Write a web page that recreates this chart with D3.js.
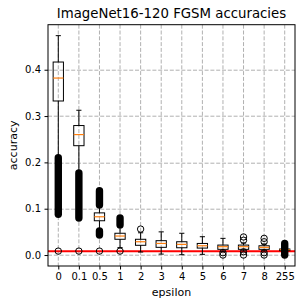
<!DOCTYPE html>
<html>
<head>
<meta charset="utf-8">
<script src="https://cdn.jsdelivr.net/npm/d3@7"></script>
<style>
  body { margin: 0; background: #fff; }
  text { font-family: "DejaVu Sans", sans-serif; }
</style>
</head>
<body>
<div id="chart-area"></div>
<script>
// data
var epsilons = ["0", "0.1", "0.5", "1", "2", "3", "4", "5", "6", "7", "8", "255"];
var whiskerLow  = [0.212, 0.178, 0.055, 0.016, 0.0065, 0.002, 0.0007, 0.0015, 0.008, 0.009, 0.009, 0.0095];
var q1          = [0.3325, 0.236, 0.074, 0.034, 0.021, 0.0166, 0.0157, 0.015, 0.0123, 0.0123, 0.0123, 0.0095];
var medians     = [0.382, 0.260, 0.0826, 0.041, 0.0287, 0.025, 0.023, 0.020, 0.018, 0.018, 0.0166, 0.0115];
var q3          = [0.4166, 0.2795, 0.091, 0.047, 0.034, 0.031, 0.0287, 0.025, 0.0215, 0.0215, 0.020, 0.013];
var whiskerHigh = [0.4735, 0.3125, 0.104, 0.062, 0.048, 0.050, 0.047, 0.0395, 0.036, 0.026, 0.024, 0.013];
// single outliers
var fliers = [
    [0.0085],
    [0.0085],
    [0.0085],
    [0.0085],
    [0.056],
    [],
    [],
    [],
    [0.005, 0.0],
    [0.039, 0.032, 0.007, 0.0],
    [0.036, 0.0287, 0.005, 0.0],
    []
];
// ranges where outliers overlap into one solid column
var flierBands = [
    [[0.088, 0.210]],
    [[0.080, 0.177]],
    [[0.108, 0.139], [0.043, 0.052]],
    [[0.065, 0.080]],
    [],
    [],
    [],
    [],
    [],
    [],
    [],
    [[0.0, 0.025]]
];
var chance = 1 / 120;
var yTicks = [0.0, 0.1, 0.2, 0.3, 0.4];

var width = 305;
var height = 308;
var margin = { left: 48, right: 10, top: 24.7, bottom: 42 };
var innerW = width - margin.left - margin.right;
var innerH = height - margin.top - margin.bottom;

var svg = d3.select("#chart-area")
    .append("svg")
    .attr("width", width)
    .attr("height", height);

var g = svg.append("g")
    .attr("transform", "translate(" + margin.left + "," + margin.top + ")");

var x = d3.scalePoint()
    .domain(epsilons)
    .range([0, innerW])
    .padding(0.5);

// matplotlib style 5% margins around the data
var allVals = whiskerLow.concat(whiskerHigh, d3.merge(fliers), d3.merge(flierBands.map(function(b) { return d3.merge(b); })));
var lo = d3.min(allVals), hi = d3.max(allVals);
var pad = (hi - lo) * 0.05;
var y = d3.scaleLinear()
    .domain([lo - pad, hi + pad])
    .range([innerH, 0]);

// grid
g.append("g").selectAll("line")
    .data(epsilons)
    .enter().append("line")
    .attr("x1", function(d) { return x(d); })
    .attr("x2", function(d) { return x(d); })
    .attr("y1", 0).attr("y2", innerH)
    .attr("stroke", "#b0b0b0").attr("stroke-width", 1)
    .attr("stroke-dasharray", "4,1.8");

g.append("g").selectAll("line")
    .data(yTicks)
    .enter().append("line")
    .attr("x1", 0).attr("x2", innerW)
    .attr("y1", function(d) { return Math.round(y(d)) + 0.5; })
    .attr("y2", function(d) { return Math.round(y(d)) + 0.5; })
    .attr("stroke", "#b0b0b0").attr("stroke-width", 1)
    .attr("stroke-dasharray", "4,1.8");

// chance line
g.append("line")
    .attr("x1", 0).attr("x2", innerW)
    .attr("y1", y(chance)).attr("y2", y(chance))
    .attr("stroke", "red").attr("stroke-width", 2);

var boxW = x.step() * 0.5;
var capW = boxW * 0.5;
var r = 3.2;

var boxes = g.selectAll(".box")
    .data(epsilons)
    .enter().append("g")
    .attr("class", "box")
    .attr("transform", function(d) { return "translate(" + x(d) + ",0)"; });

// whiskers
boxes.append("line")
    .attr("y1", function(d, i) { return y(whiskerLow[i]); })
    .attr("y2", function(d, i) { return y(q1[i]); })
    .attr("stroke", "black");
boxes.append("line")
    .attr("y1", function(d, i) { return y(q3[i]); })
    .attr("y2", function(d, i) { return y(whiskerHigh[i]); })
    .attr("stroke", "black");
// caps
boxes.append("line")
    .attr("x1", -capW / 2).attr("x2", capW / 2)
    .attr("y1", function(d, i) { return y(whiskerLow[i]); })
    .attr("y2", function(d, i) { return y(whiskerLow[i]); })
    .attr("stroke", "black");
boxes.append("line")
    .attr("x1", -capW / 2).attr("x2", capW / 2)
    .attr("y1", function(d, i) { return y(whiskerHigh[i]); })
    .attr("y2", function(d, i) { return y(whiskerHigh[i]); })
    .attr("stroke", "black");
// box
boxes.append("rect")
    .attr("x", -boxW / 2)
    .attr("width", boxW)
    .attr("y", function(d, i) { return y(q3[i]); })
    .attr("height", function(d, i) { return Math.max(y(q1[i]) - y(q3[i]), 1); })
    .attr("fill", "none")
    .attr("stroke", "black");
// median
boxes.append("line")
    .attr("x1", -boxW / 2).attr("x2", boxW / 2)
    .attr("y1", function(d, i) { return y(medians[i]); })
    .attr("y2", function(d, i) { return y(medians[i]); })
    .attr("stroke", "#ff7f0e").attr("stroke-width", 1.2);

// outliers
boxes.selectAll(".flier")
    .data(function(d, i) { return fliers[i]; })
    .enter().append("circle")
    .attr("class", "flier")
    .attr("cy", function(v) { return y(v); })
    .attr("r", r)
    .attr("fill", "none")
    .attr("stroke", "black");

boxes.selectAll(".band")
    .data(function(d, i) { return flierBands[i]; })
    .enter().append("rect")
    .attr("class", "band")
    .attr("x", -r - 0.5)
    .attr("width", 2 * r + 1)
    .attr("y", function(b) { return y(b[1]) - r - 0.5; })
    .attr("height", function(b) { return y(b[0]) - y(b[1]) + 2 * r + 1; })
    .attr("rx", r + 0.5)
    .attr("fill", "black");

// axes
var xAxisGroup = g.append("g")
    .attr("transform", "translate(0," + innerH + ")")
    .call(d3.axisBottom(x).tickSize(3.5).tickPadding(3.5));
var yAxisGroup = g.append("g")
    .call(d3.axisLeft(y).tickValues(yTicks).tickFormat(d3.format(".1f")).tickSize(3.5).tickPadding(3.5));

[xAxisGroup, yAxisGroup].forEach(function(ax) {
    ax.select(".domain").remove();
    ax.selectAll("text").attr("font-size", "10px").attr("fill", "black")
        .style("font-family", "DejaVu Sans, sans-serif");
    ax.selectAll("line").attr("stroke", "black");
});

// frame
g.append("rect")
    .attr("width", innerW).attr("height", innerH)
    .attr("fill", "none").attr("stroke", "black").attr("stroke-width", 1);

// labels
g.append("text")
    .attr("x", innerW / 2)
    .attr("y", -6.5)
    .attr("text-anchor", "middle")
    .attr("font-size", "13.3px")
    .text("ImageNet16-120 FGSM accuracies");

g.append("text")
    .attr("x", innerW / 2)
    .attr("y", innerH + 30)
    .attr("text-anchor", "middle")
    .attr("font-size", "11px")
    .text("epsilon");

g.append("text")
    .attr("transform", "rotate(-90)")
    .attr("x", -innerH / 2)
    .attr("y", -31)
    .attr("text-anchor", "middle")
    .attr("font-size", "11px")
    .text("accuracy");
</script>
</body>
</html>
